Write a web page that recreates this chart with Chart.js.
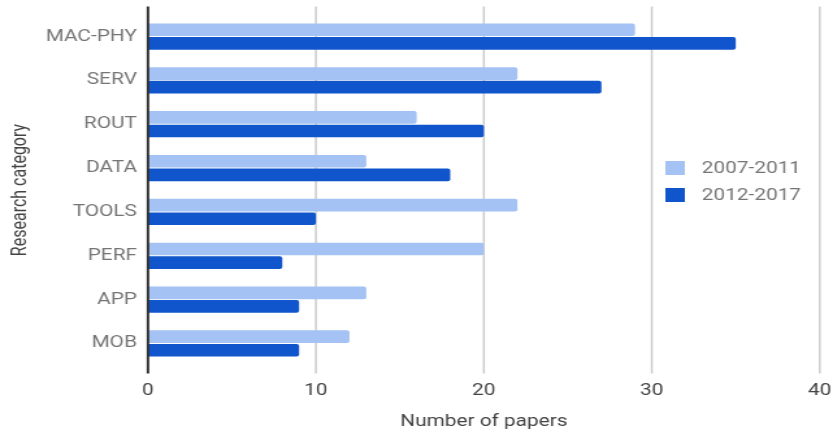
<!DOCTYPE html>
<html>
<head>
<meta charset="utf-8">
<script src="https://cdn.jsdelivr.net/npm/chart.js@4.4.1/dist/chart.umd.min.js"></script>
<style>
  html, body { margin: 0; padding: 0; background: #fff; overflow: hidden; }
  /* the reference is stretched sideways, so draw narrow and widen */
  #wrap { width: 641px; height: 434px; transform: scaleX(1.2995); transform-origin: 0 0; }
</style>
</head>
<body>
<div id="wrap"><canvas id="chart" width="641" height="434"></canvas></div>
<script>
// Data
const categories = ["MAC-PHY", "SERV", "ROUT", "DATA", "TOOLS", "PERF", "APP", "MOB"];
const seriesNames = ["2007-2011", "2012-2017"];
const papers0711 = [29, 22, 16, 13, 22, 20, 13, 12];
const papers1217 = [35, 27, 20, 18, 10, 8, 9, 9];
const xTicks = [0, 10, 20, 30, 40];
const barColors = ["#a4c2f4", "#1155cc"];

const FONT = "Roboto, 'Noto Sans', sans-serif";

// Vertical grid lines, a bit taller than the plot like the original
const gridLines = {
  id: "gridLines",
  beforeDatasetsDraw(chart) {
    const { ctx, chartArea, scales: { x } } = chart;
    ctx.save();
    ctx.strokeStyle = "#cccccc";
    ctx.lineWidth = 1.5;
    x.ticks.forEach(t => {
      if (t.value === 0) return;
      const px = x.getPixelForValue(t.value);
      ctx.beginPath();
      ctx.moveTo(px, chartArea.top - 8);
      ctx.lineTo(px, chartArea.bottom + 8);
      ctx.stroke();
    });
    ctx.restore();
  },
  afterDatasetsDraw(chart) {
    const { ctx, chartArea, scales: { x } } = chart;
    const px = x.getPixelForValue(0);
    ctx.save();
    ctx.strokeStyle = "#333333";
    ctx.lineWidth = 2;
    ctx.beginPath();
    ctx.moveTo(px, chartArea.top - 8);
    ctx.lineTo(px, chartArea.bottom + 8);
    ctx.stroke();
    ctx.restore();
  }
};

// Legend sits inside the plot on the right
const insideLegend = {
  id: "insideLegend",
  afterDraw(chart) {
    const { ctx } = chart;
    ctx.save();
    ctx.font = "16px " + FONT;
    ctx.textBaseline = "middle";
    chart.data.datasets.forEach((ds, i) => {
      const cy = 168 + i * 27;
      ctx.fillStyle = ds.backgroundColor;
      ctx.fillRect(512, cy - 7, 15, 14);
      ctx.fillStyle = "#757575";
      ctx.fillText(ds.label, 540, cy + 1);
    });
    ctx.restore();
  }
};

const chart = new Chart(document.getElementById("chart"), {
  type: "bar",
  plugins: [gridLines, insideLegend],
  data: {
    labels: categories,
    datasets: [
      { label: seriesNames[0], data: papers0711, backgroundColor: barColors[0], borderRadius: 2, borderSkipped: "left" },
      { label: seriesNames[1], data: papers1217, backgroundColor: barColors[1], borderRadius: 2, borderSkipped: "left" }
    ]
  },
  options: {
    indexAxis: "y",
    responsive: false,
    animation: false,
    layout: { padding: { top: 14.6, right: 10.2, bottom: 0, left: 0 } },
    datasets: { bar: { categoryPercentage: 0.62, barPercentage: 0.93 } },
    plugins: { legend: { display: false }, tooltip: { enabled: false } },
    scales: {
      x: {
        type: "linear",
        min: 0,
        max: 40,
        afterBuildTicks: s => { s.ticks = xTicks.map(v => ({ value: v })); },
        afterFit: s => { s.height = 434 - 365.4; },
        // tick marks hidden, their length only spaces the labels
        grid: { display: false, drawTicks: true, tickLength: 16 },
        border: { display: false },
        ticks: { padding: 0, color: "#444444", font: { family: FONT, size: 16 } },
        title: {
          display: true,
          text: "Number of papers",
          color: "#444444",
          padding: { top: 0, bottom: 2 },
          font: { family: FONT, size: 16 }
        }
      },
      y: {
        afterFit: s => { s.width = 113.85; },
        grid: { display: false, drawTicks: true, tickLength: 8.5 },
        border: { display: false },
        ticks: { padding: 0, color: "#757575", font: { family: FONT, size: 16 } },
        title: {
          display: true,
          text: "Research category",
          color: "#444444",
          padding: { top: 6, bottom: 0 },
          font: { family: FONT, size: 16 }
        }
      }
    }
  }
});
</script>
</body>
</html>
